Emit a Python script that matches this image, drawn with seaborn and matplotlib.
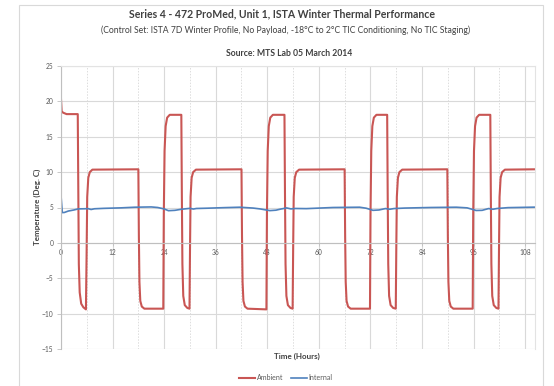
import matplotlib
matplotlib.use("Agg")
import matplotlib.pyplot as plt
import seaborn as sns
import pandas as pd
from matplotlib.patches import Rectangle
from matplotlib.ticker import MultipleLocator

# ---------------- data ----------------
title = "Series 4 - 472 ProMed, Unit 1, ISTA Winter Thermal Performance"
subtitle = "(Control Set: ISTA 7D Winter Profile, No Payload, -18\u00b0C to 2\u00b0C TIC Conditioning, No TIC Staging)"
source = "Source: MTS Lab 05 March 2014"
x_label = "Time (Hours)"
y_label = "Temperature (Deg. C)"
series_names = ["Ambient", "Internal"]
x_ticks = [0, 12, 24, 36, 48, 60, 72, 84, 96, 108]
y_ticks = [-15, -10, -5, 0, 5, 10, 15, 20, 25]

ambient_hours = [
    0.0, 0.15, 0.5, 1.3, 3.9, 4.02, 4.15, 4.35, 4.7, 5.2, 5.8,
    5.95, 6.1, 6.35, 6.7, 7.3, 18.0,
    18.12, 18.25, 18.45, 18.8, 19.4, 23.8,
    23.92, 24.1, 24.35, 24.7, 25.3, 28.0,
    28.12, 28.25, 28.45, 28.8, 29.4, 29.9,
    30.02, 30.15, 30.4, 30.75, 31.4, 42.0,
    42.12, 42.25, 42.45, 42.8, 43.4, 47.8,
    47.92, 48.1, 48.35, 48.7, 49.3, 52.0,
    52.12, 52.25, 52.45, 52.8, 53.4, 53.9,
    54.02, 54.15, 54.4, 54.75, 55.4, 66.0,
    66.12, 66.25, 66.45, 66.8, 67.4, 71.9,
    72.02, 72.2, 72.45, 72.8, 73.4, 75.9,
    76.02, 76.15, 76.35, 76.7, 77.3, 77.9,
    78.02, 78.15, 78.4, 78.75, 79.4, 89.9,
    90.02, 90.15, 90.35, 90.7, 91.3, 95.8,
    95.92, 96.1, 96.35, 96.7, 97.3, 99.9,
    100.02, 100.15, 100.35, 100.7, 101.3, 101.8,
    101.92, 102.05, 102.3, 102.65, 103.3, 110.3,
]
ambient_temp = [
    20.3, 18.6, 18.4, 18.2, 18.2, 8.0, -3.0, -7.0, -8.6, -9.1, -9.4,
    -2.0, 6.5, 9.2, 10.0, 10.35, 10.4,
    1.0, -5.5, -8.2, -9.0, -9.3, -9.3,
    4.0, 13.0, 16.5, 17.7, 18.1, 18.1,
    7.0, -3.0, -7.5, -8.8, -9.2, -9.3,
    -1.0, 6.5, 9.2, 10.0, 10.35, 10.4,
    1.0, -5.5, -8.2, -9.0, -9.3, -9.4,
    4.0, 13.0, 16.5, 17.7, 18.1, 18.1,
    7.0, -3.0, -7.5, -8.8, -9.2, -9.3,
    -1.0, 6.5, 9.2, 10.0, 10.35, 10.4,
    1.0, -5.5, -8.2, -9.0, -9.3, -9.3,
    4.0, 13.0, 16.5, 17.7, 18.1, 18.1,
    7.0, -3.0, -7.5, -8.8, -9.2, -9.3,
    -1.0, 6.5, 9.2, 10.0, 10.35, 10.4,
    1.0, -5.5, -8.2, -9.0, -9.3, -9.3,
    4.0, 13.0, 16.5, 17.7, 18.1, 18.1,
    7.0, -3.0, -7.5, -8.8, -9.2, -9.3,
    -1.0, 6.5, 9.2, 10.0, 10.35, 10.4,
]

internal_hours = [
    0.0, 0.3, 0.8, 1.7, 3.0, 4.0, 5.5, 6.3, 7.0, 7.8, 10.0, 14.0, 17.2,
    21.0, 22.5, 24.0, 25.0, 26.5, 28.0, 30.0, 30.8, 31.5, 34.0, 38.0,
    41.6, 44.7, 46.3, 48.6, 50.0, 51.0, 52.5, 53.5, 54.5, 57.1, 63.3,
    69.5, 71.0, 72.6, 74.0, 75.5, 76.5, 77.5, 80.0, 86.0, 92.0, 94.5,
    96.6, 98.0, 99.5, 100.5, 101.5, 104.0, 110.3,
]
internal_temp = [
    6.7, 4.28, 4.3, 4.5, 4.65, 4.8, 4.82, 4.84, 4.72, 4.82, 4.88, 4.95, 5.04,
    5.08, 5.0, 4.8, 4.55, 4.6, 4.75, 4.88, 4.78, 4.86, 4.9, 4.98,
    5.04, 4.92, 4.8, 4.56, 4.62, 4.76, 4.94, 4.8, 4.86, 4.84, 5.0,
    5.04, 4.9, 4.6, 4.65, 4.85, 4.75, 4.85, 4.92, 5.0, 5.04, 4.95,
    4.58, 4.6, 4.85, 4.75, 4.86, 4.98, 5.05,
]

# ---------------- figure ----------------
W, H = 554, 386
fig = plt.figure(figsize=(W / 100, H / 100), dpi=100)
fig.patch.set_facecolor("white")

font = ["Lato", "DejaVu Sans"]
plt.rcParams["font.family"] = font

# chart-area border
fig.patches.append(Rectangle((19 / W, 1 - 392 / H), (543 - 19) / W, (392 - 5) / H,
                             transform=fig.transFigure, fill=False,
                             edgecolor="#D9D9D9", linewidth=0.8))

left, right, top, bottom = 61, 535, 66, 349
ax = fig.add_axes([left / W, 1 - bottom / H, (right - left) / W, (bottom - top) / H])

amb = pd.DataFrame({"hours": ambient_hours, "temp": ambient_temp})
inn = pd.DataFrame({"hours": internal_hours, "temp": internal_temp})

sns.lineplot(data=amb, x="hours", y="temp", ax=ax, color="#C95654",
             linewidth=1.5, label=series_names[0], sort=False)
sns.lineplot(data=inn, x="hours", y="temp", ax=ax, color="#4F81BD",
             linewidth=1.2, label=series_names[1], sort=False)

ax.set_xlim(0, 110.3)
ax.set_ylim(-15, 25)
ax.set_xticks(x_ticks)
ax.set_yticks(y_ticks)
ax.xaxis.set_minor_locator(MultipleLocator(6))

ax.grid(axis="y", which="major", color="#D9D9D9", linewidth=0.8)
ax.grid(axis="x", which="major", color="#D9D9D9", linewidth=0.8)
ax.grid(axis="x", which="minor", color="#DDDDDD", linewidth=0.7, linestyle=(0, (1.5, 1.5)))
ax.set_axisbelow(True)

for s in ["top", "right"]:
    ax.spines[s].set_color("#E3E3E3")
    ax.spines[s].set_linewidth(0.8)
ax.spines["left"].set_color("#BFBFBF")
ax.spines["left"].set_linewidth(0.8)
ax.spines["bottom"].set_position(("data", 0))
ax.spines["bottom"].set_color("#BFBFBF")
ax.spines["bottom"].set_linewidth(0.8)

ax.tick_params(axis="y", which="major", length=3, width=0.6, color="#BFBFBF",
               labelsize=4.8, labelcolor="#595959", pad=2.5)
ax.tick_params(axis="x", which="major", length=2.5, width=0.6, color="#BFBFBF",
               labelsize=4.8, labelcolor="#595959", pad=2)
ax.tick_params(axis="x", which="minor", length=0)

ax.set_xlabel("")
ax.set_ylabel("")

fig.text(37 / W, 1 - 207 / H, y_label, rotation=90, ha="center", va="center",
         fontsize=5.8, fontweight="bold", color="#404040")
fig.text(297 / W, 1 - 356 / H, x_label, ha="center", va="center",
         fontsize=5.8, fontweight="bold", color="#404040")

fig.text(282 / W, 1 - 14 / H, title, ha="center", va="center",
         fontsize=7.6, fontweight="bold", color="#404040")
fig.text(286 / W, 1 - 30 / H, subtitle, ha="center", va="center",
         fontsize=6.2, color="#404040")
fig.text(289 / W, 1 - 53 / H, source, ha="center", va="center",
         fontsize=6.2, fontweight="bold", color="#404040")

ax.legend(loc="center", bbox_to_anchor=(286 / W, 1 - 378 / H),
          bbox_transform=fig.transFigure, ncol=2, frameon=False,
          fontsize=5.0, handlelength=2.2, handletextpad=0.3, columnspacing=1.2,
          labelcolor="#595959")

fig.savefig("out.png", dpi=100)
